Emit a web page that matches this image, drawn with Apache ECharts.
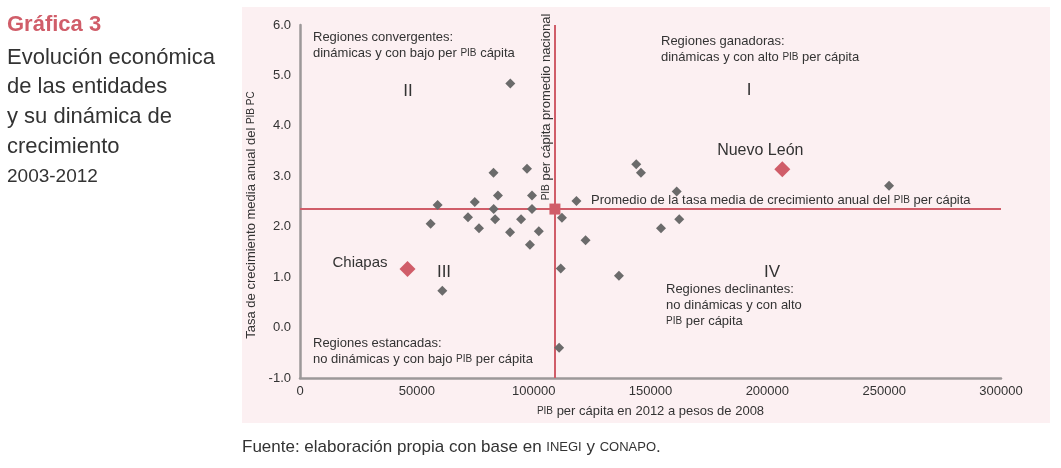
<!DOCTYPE html>
<html>
<head>
<meta charset="utf-8">
<script src="https://cdn.jsdelivr.net/npm/echarts@6/dist/echarts.min.js"></script>
<style>
html,body{margin:0;padding:0;background:#fff;}
#chart{width:1061px;height:468px;}
</style>
</head>
<body>
<div id="chart"></div>
<script>
// ---- Data ----
const gdpPerCapita = [90000,143900,97150,145900,82800,84700,99300,161200,118300,252100,74800,58900,82900,99300,71900,83500,94600,112100,162300,55900,76600,154500,89900,102200,98400,122200,111600,136500,60900,110900];
const growthRate   = [4.84,3.24,3.15,3.07,3.07,2.62,2.62,2.70,2.51,2.81,2.49,2.43,2.35,2.35,2.19,2.15,2.15,2.18,2.15,2.06,1.97,1.97,1.89,1.91,1.64,1.73,1.17,1.03,0.73,-0.40];
const highlightNames = ['Chiapas','Nuevo León'];
const highlightGdp   = [46000,206400];
const highlightRate  = [1.16,3.14];
const meanGdp = 109100;
const meanRate = 2.35;
const xTicks = [0,50000,100000,150000,200000,250000,300000];
const yTicks = ['-1.0','0.0','1.0','2.0','3.0','4.0','5.0','6.0'];

const FONT = '"Liberation Sans", Arial, Helvetica, sans-serif';
const RED = '#d05d69';
const TXT = '#333333';
const sc = (size) => ({fontSize: size, fontFamily: FONT, color: TXT, fill: TXT});

const chart = echarts.init(document.getElementById('chart'), null, {renderer:'canvas'});

function txt(x, y, text, o) {
  o = o || {};
  const size = o.size || 13;
  return {
    type: 'text', x: x, y: y, z: 5, rotation: o.rotation || 0,
    style: {
      text: text,
      fontSize: size, fontFamily: FONT, fontWeight: o.bold ? 'bold' : 'normal',
      fill: o.color || TXT,
      align: o.align || 'left', verticalAlign: 'middle',
      lineHeight: o.lh || Math.round(size * 1.23),
      rich: { sc: { fontSize: Math.round(size * 0.77), fontFamily: FONT, fill: o.color || TXT, lineHeight: o.lh || Math.round(size * 1.23) } }
    }
  };
}

const graphics = [
  { type: 'rect', z: -10, shape: {x: 242, y: 7, width: 808, height: 416}, style: {fill: '#fcf0f2'} },
  txt(7, 25, 'Gráfica 3', {size: 22, bold: true, color: RED}),
  txt(7, 58, 'Evolución económica', {size: 22}),
  txt(7, 87, 'de las entidades', {size: 22}),
  txt(7, 117, 'y su dinámica de', {size: 22}),
  txt(7, 147, 'crecimiento', {size: 22}),
  txt(7, 177, '2003-2012', {size: 19}),
  txt(242, 447, 'Fuente: elaboración propia con base en {sc|INEGI} y {sc|CONAPO}.', {size: 17}),
  txt(313, 45, 'Regiones convergentes:\ndinámicas y con bajo per {sc|PIB} cápita', {size: 13, lh: 16}),
  txt(661, 49, 'Regiones ganadoras:\ndinámicas y con alto {sc|PIB} per cápita', {size: 13, lh: 16}),
  txt(666, 305, 'Regiones declinantes:\nno dinámicas y con alto\n{sc|PIB} per cápita', {size: 13, lh: 16}),
  txt(313, 351, 'Regiones estancadas:\nno dinámicas y con bajo {sc|PIB} per cápita', {size: 13, lh: 16}),
  txt(591, 200, 'Promedio de la tasa media de crecimiento anual del {sc|PIB} per cápita', {size: 13}),
  txt(546, 107, '{sc|PIB} per cápita promedio nacional', {size: 13, align: 'center', rotation: Math.PI / 2}),
  txt(408, 91, 'II', {size: 17, align: 'center'}),
  txt(749, 90, 'I', {size: 17, align: 'center'}),
  txt(444, 272, 'III', {size: 17, align: 'center'}),
  txt(772, 272, 'IV', {size: 17, align: 'center'})
];

const option = {
  backgroundColor: '#ffffff',
  animation: false,
  textStyle: {fontFamily: FONT},
  grid: {left: 300, right: 60, top: 25, bottom: 90, containLabel: false},
  graphic: graphics,
  xAxis: {
    type: 'value', min: xTicks[0], max: xTicks[xTicks.length - 1], interval: xTicks[1] - xTicks[0],
    name: '{sc|PIB} per cápita en 2012 a pesos de 2008',
    nameLocation: 'middle', nameGap: 27,
    nameTextStyle: {fontSize: 13, color: TXT, fontFamily: FONT, rich: {sc: sc(10)}},
    axisLine: {show: true, onZero: false, lineStyle: {color: '#9c9899', width: 2.5}},
    axisTick: {show: false},
    splitLine: {show: false},
    axisLabel: {fontSize: 13, color: TXT, fontFamily: FONT, margin: 7, formatter: (v) => String(v)}
  },
  yAxis: {
    type: 'value', min: Number(yTicks[0]), max: Number(yTicks[yTicks.length - 1]), interval: 1,
    name: 'Tasa de crecimiento media anual del {sc|PIB PC}',
    nameLocation: 'middle', nameGap: 40,
    nameTextStyle: {fontSize: 13, color: TXT, fontFamily: FONT, rich: {sc: sc(10)}, padding: [0, 27, 0, 0]},
    axisLine: {show: true, onZero: false, lineStyle: {color: '#9c9899', width: 2.5}},
    axisTick: {show: false},
    splitLine: {show: false},
    axisLabel: {fontSize: 13, color: TXT, fontFamily: FONT, margin: 9, padding: [0, 0, 7, 0],
      formatter: (v) => yTicks[Math.round(v - Number(yTicks[0]))]}
  },
  series: [
    {
      name: 'Promedio', type: 'scatter', z: 2,
      symbol: 'rect', symbolSize: 11,
      itemStyle: {color: RED, opacity: 1},
      data: [[meanGdp, meanRate]],
      markLine: {
        silent: true, symbol: ['none', 'none'], z: 1,
        label: {show: false},
        lineStyle: {color: RED, width: 2, type: 'solid', opacity: 1},
        data: [{xAxis: meanGdp}, {yAxis: meanRate}]
      }
    },
    {
      name: 'Entidades', type: 'scatter', z: 3,
      symbol: 'diamond', symbolSize: 10,
      itemStyle: {color: '#6b6b6b', opacity: 1},
      data: gdpPerCapita.map((v, i) => [v, growthRate[i]])
    },
    {
      name: 'Destacadas', type: 'scatter', z: 4,
      symbol: 'diamond', symbolSize: 16,
      itemStyle: {color: RED, opacity: 1},
      label: {show: true, fontSize: 16, color: TXT, fontFamily: FONT, formatter: (p) => p.name},
      data: highlightNames.map((n, i) => {
        const d = {name: n, value: [highlightGdp[i], highlightRate[i]]};
        if (n === 'Chiapas') d.label = {position: 'left', distance: 12, offset: [0, -6], fontSize: 15};
        else d.label = {position: 'top', distance: 3, offset: [-22, 0], fontSize: 16};
        return d;
      })
    }
  ]
};
chart.setOption(option);
</script>
</body>
</html>
